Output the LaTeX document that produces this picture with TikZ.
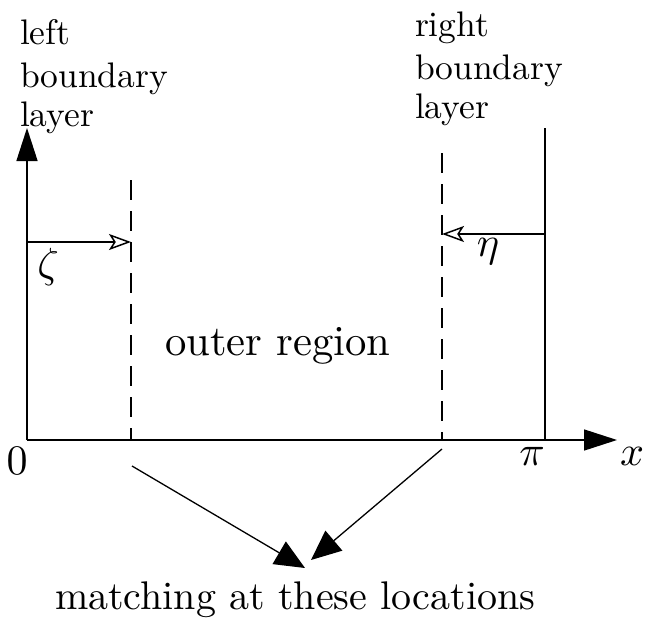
\documentclass[tikz,border=0pt]{standalone}
\usetikzlibrary{arrows.meta}
\usepackage{graphicx}
\begin{document}
\begin{tikzpicture}[x=1pt,y=-1pt,
  axis/.style={line width=1.5pt,-{Triangle[length=33pt,width=21pt]}},
  wall/.style={line width=1.5pt},
  dashline/.style={line width=1.5pt,dash pattern=on 20pt off 11pt},
  coordarrow/.style={line width=1.5pt,-{Stealth[open,length=22pt,width=16pt,inset=5pt,line width=1.5pt]}},
  matcharrow/.style={line width=1.3pt,-{Triangle[length=30pt,width=26pt]}},
  lab/.style={inner sep=0pt,outer sep=0pt}]
\useasboundingbox (0,0) rectangle (645,618);
% coordinates
\coordinate (O) at (27,440);
\coordinate (ytip) at (27,128);
\coordinate (xtip) at (617,440);
\coordinate (Ltop) at (131,180);
\coordinate (Lbot) at (131,440);
\coordinate (Rtop) at (442,153);
\coordinate (Rbot) at (442,440);
\coordinate (Wtop) at (545,128);
\coordinate (Wbot) at (545,440);
\coordinate (zs) at (27,242);
\coordinate (ze) at (131,242);
\coordinate (es) at (545,234);
\coordinate (ee) at (442,234);
\coordinate (m1s) at (132,466);
\coordinate (m1e) at (305,568);
\coordinate (m2s) at (442,449);
\coordinate (m2e) at (311,560);
% axes and lines
\draw[axis] (O) -- (ytip);
\draw[axis] (O) -- (xtip);
\draw[wall] (Wbot) -- (Wtop);
\draw[dashline] (Ltop) -- (Lbot);
\draw[dashline] (Rtop) -- (Rbot);
\draw[coordarrow] (zs) -- (ze);
\draw[coordarrow] (es) -- (ee);
\draw[matcharrow] (m1s) -- (m1e);
\draw[matcharrow] (m2s) -- (m2e);
% labels
\node[lab,anchor=base west] (left) at (20,45) {\scalebox{3.55}{left}};
\node[lab,anchor=base west] (lb) at (20,88) {\scalebox{3.55}{boundary}};
\node[lab,anchor=base west] (ll) at (20,126) {\scalebox{3.55}{layer}};
\node[lab,anchor=base west] (right) at (415,37) {\scalebox{3.55}{right}};
\node[lab,anchor=base west] (rb) at (415,79) {\scalebox{3.55}{boundary}};
\node[lab,anchor=base west] (rl) at (415,118) {\scalebox{3.55}{layer}};
\node[lab,anchor=base west] (outer) at (165,355) {\scalebox{4.27}{outer region}};
\node[lab,anchor=base west] (match) at (55,609) {\scalebox{4.0}{matching at these locations}};
\node[lab] (zeta) at (48,267) {\scalebox{4.2}{$\zeta$}};
\node[lab] (eta) at (488,252) {\scalebox{4.2}{$\eta$}};
\node[lab] (zero) at (17,461) {\scalebox{4.2}{$0$}};
\node[lab] (pi) at (532,456) {\scalebox{4.2}{$\pi$}};
\node[lab] (xl) at (632,456) {\scalebox{4.2}{$x$}};
\end{tikzpicture}
\end{document}
